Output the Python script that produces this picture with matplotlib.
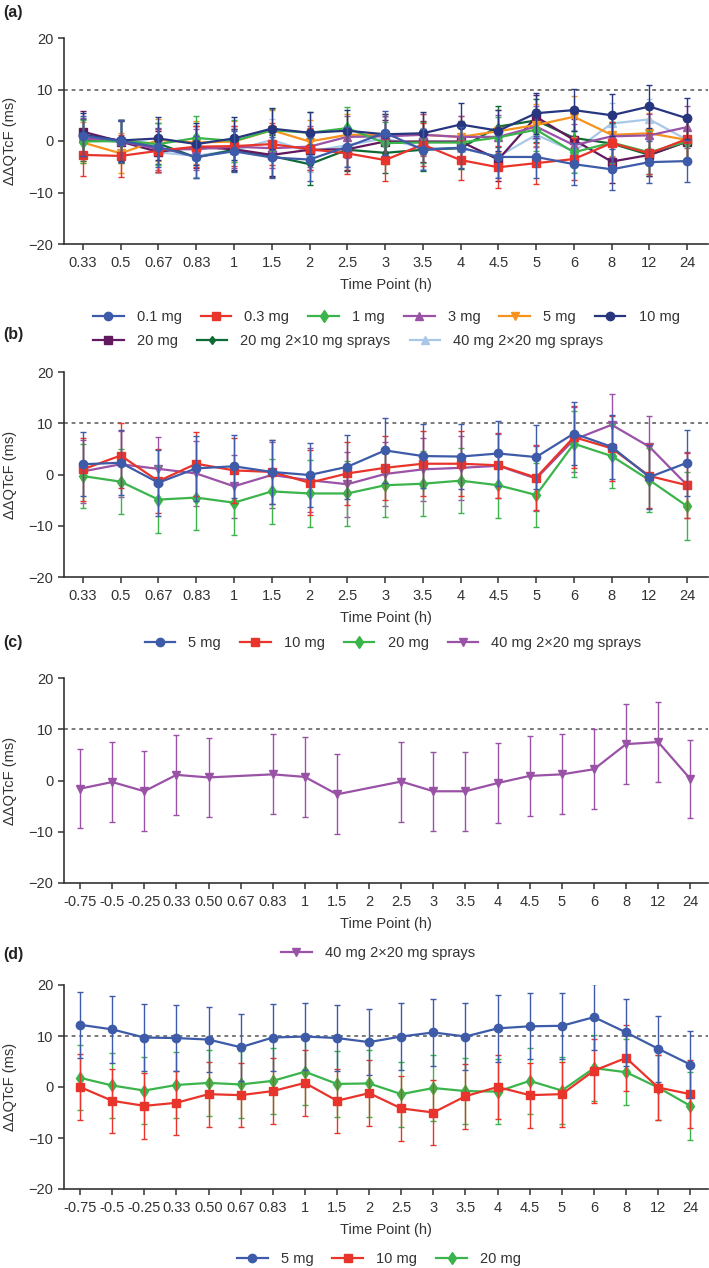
import matplotlib
matplotlib.use("Agg")
import matplotlib.pyplot as plt
from matplotlib.lines import Line2D
import numpy as np

plt.rcParams['font.family'] = ['Liberation Sans Narrow', 'Liberation Sans', 'DejaVu Sans']
plt.rcParams['font.size'] = 10.5
plt.rcParams['text.color'] = '#333333'
plt.rcParams['axes.labelcolor'] = '#333333'
plt.rcParams['xtick.color'] = '#333333'
plt.rcParams['ytick.color'] = '#333333'

# time points
t_a = ['0.33', '0.5', '0.67', '0.83', '1', '1.5', '2', '2.5', '3', '3.5', '4', '4.5', '5', '6', '8', '12', '24']
t_c = ['-0.75', '-0.5', '-0.25', '0.33', '0.50', '0.67', '0.83', '1', '1.5', '2', '2.5', '3', '3.5', '4', '4.5',
       '5', '6', '8', '12', '24']

# panel (a): all doses
a_01 = [1.0, 0.0, -1.2, -3.1, -2.0, -3.2, -3.6, -1.1, 1.6, -1.7, -1.3, -3.1, -3.1, -4.5, -5.5, -4.1, -3.9]
a_03 = [-2.7, -2.9, -1.9, -1.1, -1.0, -0.6, -1.6, -2.4, -3.7, -0.7, -3.7, -5.1, -4.3, -3.5, -0.4, -2.4, 0.4]
a_1 = [-0.1, 0.0, -0.6, 0.6, 0.0, 2.1, 1.6, 2.5, -0.4, -0.3, -0.3, 0.7, 2.2, -2.2, -0.3, -2.2, -0.1]
a_3 = [0.5, 0.0, -1.6, -1.6, -1.1, -1.4, -1.1, 0.8, 0.9, 1.2, 0.8, 0.8, 2.8, -0.8, 0.9, 1.1, 2.7]
a_5 = [-0.3, -2.4, 0.2, -0.3, -0.1, 2.1, -0.1, 1.2, 1.2, 1.2, 0.8, 1.9, 3.1, 4.7, 1.2, 1.5, 0.2]
a_10 = [1.2, 0.1, 0.5, -0.6, 0.5, 2.4, 1.6, 2.0, 1.3, 1.5, 3.2, 2.0, 5.4, 6.0, 5.0, 6.7, 4.4]
a_20 = [1.8, -0.1, -2.1, -1.2, -1.6, -2.7, -1.7, -1.6, -0.1, -0.1, -0.1, -3.6, 4.7, 0.2, -4.0, -2.7, -0.1]
a_20s = [0.2, -0.1, -0.5, -3.2, -1.7, -2.9, -4.5, -1.7, -2.3, -1.7, -1.4, 2.8, 4.0, 0.6, -0.5, -2.7, -0.1]
a_40s = [0.5, -0.1, -2.2, -2.9, -1.8, 0.2, -2.1, -0.8, 0.5, -1.4, -1.4, -3.0, 1.2, -2.0, 3.4, 4.2, 0.2]
e_01 = [3.9, 4.0, 3.8, 4.1, 4.0, 4.0, 4.1, 3.9, 4.3, 4.0, 4.0, 4.1, 4.0, 4.1, 4.0, 4.1, 4.0]
e_03 = [4.1, 4.0, 4.2, 4.0, 3.9, 4.0, 4.1, 4.0, 4.0, 4.1, 3.9, 4.1, 4.0, 4.0, 4.1, 4.0, 3.9]
e_1 = [4.2, 4.0, 4.1, 4.2, 4.0, 4.1, 4.0, 4.1, 4.0, 4.0, 4.1, 4.0, 4.1, 4.1, 4.0, 4.2, 4.0]
e_3 = [4.0, 4.1, 4.0, 4.0, 4.1, 3.9, 4.0, 4.1, 4.0, 4.1, 4.0, 4.2, 4.0, 4.1, 4.0, 4.1, 4.1]
e_5 = [4.0, 3.9, 4.0, 4.1, 4.0, 4.0, 4.1, 4.0, 4.1, 4.0, 4.0, 4.1, 4.0, 4.0, 4.1, 4.0, 4.0]
e_10 = [4.2, 4.0, 4.1, 4.0, 4.1, 4.0, 4.1, 4.0, 4.0, 4.1, 4.1, 4.0, 4.0, 4.1, 4.1, 4.1, 4.0]
e_20 = [4.1, 4.0, 4.0, 4.1, 4.0, 4.1, 4.0, 4.0, 4.1, 4.0, 4.0, 4.1, 4.2, 4.0, 4.1, 4.0, 4.0]
e_20s = [4.0, 4.1, 4.0, 4.0, 4.1, 4.0, 4.0, 4.1, 4.0, 4.1, 4.0, 4.0, 4.1, 4.0, 4.0, 4.1, 4.0]
e_40s = [4.0, 4.0, 4.1, 4.0, 4.0, 4.1, 4.0, 4.0, 4.1, 4.0, 4.1, 4.0, 4.0, 4.1, 4.0, 4.0, 4.1]

# panel (b)
b_5 = [2.0, 2.3, -1.6, 1.2, 1.6, 0.5, -0.1, 1.5, 4.7, 3.6, 3.5, 4.1, 3.4, 8.0, 5.4, -0.5, 2.3]
b_10 = [1.0, 3.7, -1.3, 2.1, 0.8, 0.5, -1.6, 0.2, 1.3, 2.1, 2.1, 1.8, -0.6, 7.3, 5.1, -0.3, -2.1]
b_20 = [-0.3, -1.4, -4.9, -4.5, -5.5, -3.3, -3.7, -3.7, -2.1, -1.8, -1.2, -2.1, -4.0, 6.0, 3.6, -1.1, -6.2]
b_40 = [0.6, 2.0, 1.1, 0.2, -2.3, -0.1, -1.1, -1.9, 0.1, 1.0, 1.3, 1.7, -0.8, 6.8, 9.7, 5.4, -2.1]
be_5 = [6.2, 6.3, 6.4, 6.3, 6.2, 6.3, 6.3, 6.2, 6.3, 6.3, 6.3, 6.3, 6.2, 6.2, 6.3, 6.3, 6.4]
be_10 = [6.1, 6.3, 6.3, 6.2, 6.3, 6.3, 6.3, 6.2, 6.2, 6.3, 6.3, 6.3, 6.3, 6.1, 6.3, 6.3, 6.3]
be_20 = [6.3, 6.4, 6.5, 6.4, 6.3, 6.3, 6.5, 6.3, 6.2, 6.3, 6.3, 6.3, 6.3, 6.4, 6.3, 6.3, 6.6]
be_40 = [6.1, 6.4, 6.2, 6.3, 6.2, 6.4, 6.2, 6.3, 6.3, 6.2, 6.3, 6.2, 6.3, 6.3, 6.1, 6.0, 6.4]

# panel (c): 40 mg 2x20 mg sprays (no value at 0.67 and 2 h)
c_40 = [-1.6, -0.3, -2.1, 1.1, 0.6, None, 1.2, 0.7, -2.7, None, -0.2, -2.1, -2.1, -0.5, 0.9, 1.2, 2.2, 7.1, 7.5, 0.3]
ce_40 = [7.7, 7.8, 7.8, 7.8, 7.7, None, 7.8, 7.8, 7.8, None, 7.8, 7.7, 7.7, 7.8, 7.8, 7.8, 7.8, 7.8, 7.8, 7.7]

# panel (d)
d_5 = [12.2, 11.3, 9.7, 9.6, 9.3, 7.8, 9.7, 9.9, 9.6, 8.8, 9.9, 10.7, 9.9, 11.5, 11.9, 12.0, 13.7, 10.7, 7.5, 4.4]
d_10 = [0.0, -2.7, -3.7, -3.1, -1.4, -1.6, -0.8, 0.8, -2.7, -1.2, -4.2, -5.0, -1.8, 0.0, -1.6, -1.4, 3.2, 5.7, -0.1, -1.4]
d_20 = [1.8, 0.3, -0.7, 0.4, 0.8, 0.5, 1.2, 3.0, 0.6, 0.7, -1.4, -0.2, -0.8, -0.9, 1.2, -0.7, 3.7, 2.9, -0.1, -3.7]
de_5 = [6.5, 6.5, 6.5, 6.5, 6.4, 6.6, 6.5, 6.5, 6.4, 6.5, 6.5, 6.6, 6.5, 6.5, 6.5, 6.5, 6.5, 6.5, 6.5, 6.6]
de_10 = [6.4, 6.3, 6.4, 6.3, 6.4, 6.3, 6.4, 6.4, 6.3, 6.4, 6.3, 6.3, 6.4, 6.3, 6.4, 6.4, 6.3, 6.4, 6.4, 6.6]
de_20 = [6.4, 6.4, 6.5, 6.5, 6.4, 6.5, 6.5, 6.5, 6.5, 6.5, 6.4, 6.5, 6.5, 6.4, 6.5, 6.5, 6.5, 6.5, 6.4, 6.6]

c_blue = '#3d5ba8'
c_red = '#e8342b'
c_green = '#3bb44b'
c_purple = '#9a52a6'
c_orange = '#f6921e'
c_navy = '#27367f'
c_dpurple = '#62195f'
c_dgreen = '#0f6a35'
c_lblue = '#a9c8e8'

fig = plt.figure(figsize=(7.09, 12.68), dpi=100)
W, H = 709.0, 1268.0


def make_ax(top, bottom):
    ax = fig.add_axes([64 / W, 1 - bottom / H, (708 - 64) / W, (bottom - top) / H])
    for s in ['top', 'right']:
        ax.spines[s].set_visible(False)
    for s in ['left', 'bottom']:
        ax.spines[s].set_linewidth(1.2)
        ax.spines[s].set_color('#333333')
    ax.set_ylim(-20, 20)
    ax.set_yticks([-20, -10, 0, 10, 20])
    ax.tick_params(length=4, width=1.1, pad=3.5, labelsize=10.5)
    ax.tick_params(axis='x', pad=4.5)
    ax.axhline(10, color='#555555', lw=1.1, ls=(0, (2.5, 2.5)), zorder=0)
    ax.set_xlabel('Time Point (h)', labelpad=6)
    fig.text(10 / W, 1 - ((top + bottom) / 2) / H, 'ΔΔQTcF (ms)', rotation=90, ha='center', va='center')
    return ax


def draw(ax, vals, errs, color, marker, ms, z):
    x = [i for i, v in enumerate(vals) if v is not None]
    y = [v for v in vals if v is not None]
    e = [v for v in errs if v is not None]
    ax.errorbar(x, y, yerr=e, color=color, marker=marker, ms=ms, lw=1.6, elinewidth=1.0,
                capsize=2.5, capthick=1.0, ecolor=color, zorder=z)


def proxy(color, marker, ms):
    return Line2D([], [], color=color, marker=marker, ms=ms, lw=1.6)


# ---- (a)
ax = make_ax(38, 244)
ax.set_xlim(-0.5, len(t_a) - 0.45)
ax.set_xticks(range(len(t_a)))
ax.set_xticklabels(t_a)
a_series = [
    (a_40s, e_40s, c_lblue, '^', 5.5, '40 mg 2×20 mg sprays'),
    (a_20s, e_20s, c_dgreen, 'd', 4.5, '20 mg 2×10 mg sprays'),
    (a_20, e_20, c_dpurple, 's', 5.5, '20 mg'),
    (a_5, e_5, c_orange, 'v', 5.5, '5 mg'),
    (a_3, e_3, c_purple, '^', 5.5, '3 mg'),
    (a_1, e_1, c_green, 'd', 6, '1 mg'),
    (a_03, e_03, c_red, 's', 6, '0.3 mg'),
    (a_10, e_10, c_navy, 'o', 6, '10 mg'),
    (a_01, e_01, c_blue, 'o', 6, '0.1 mg'),
]
for i, (v, e, c, m, s, lab) in enumerate(a_series):
    draw(ax, v, e, c, m, s, 2 + i)
hd = {lab: proxy(c, m, s) for (v, e, c, m, s, lab) in a_series}
row1 = ['0.1 mg', '0.3 mg', '1 mg', '3 mg', '5 mg', '10 mg']
row2 = ['20 mg', '20 mg 2×10 mg sprays', '40 mg 2×20 mg sprays']
leg_kw = dict(frameon=False, borderpad=0, borderaxespad=0, handlelength=2.1, handletextpad=0.9,
              columnspacing=1.3, fontsize=10.5, numpoints=1)
l1 = fig.legend([hd[k] for k in row1], row1, loc='center left', ncol=len(row1),
                bbox_to_anchor=(93 / W, 1 - 317 / H), **leg_kw)
l2 = fig.legend([hd[k] for k in row2], row2, loc='center left', ncol=len(row2),
                bbox_to_anchor=(93 / W, 1 - 341 / H), **leg_kw)

# ---- (b)
ax = make_ax(372, 577)
ax.set_xlim(-0.5, len(t_a) - 0.45)
ax.set_xticks(range(len(t_a)))
ax.set_xticklabels(t_a)
b_series = [
    (b_40, be_40, c_purple, 'v', 5.5, '40 mg 2×20 mg sprays'),
    (b_20, be_20, c_green, 'd', 6, '20 mg'),
    (b_10, be_10, c_red, 's', 6, '10 mg'),
    (b_5, be_5, c_blue, 'o', 6, '5 mg'),
]
for i, (v, e, c, m, s, lab) in enumerate(b_series):
    draw(ax, v, e, c, m, s, 2 + i)
order = [3, 2, 1, 0]
fig.legend([proxy(*b_series[k][2:5]) for k in order], [b_series[k][5] for k in order],
           loc='center', ncol=4, bbox_to_anchor=(393 / W, 1 - 643 / H), **leg_kw)

# ---- (c)
ax = make_ax(678, 883)
ax.set_xlim(-0.5, len(t_c) - 0.45)
ax.set_xticks(range(len(t_c)))
ax.set_xticklabels(t_c)
draw(ax, c_40, ce_40, c_purple, 'v', 5.5, 3)
fig.legend([proxy(c_purple, 'v', 5.5)], ['40 mg 2×20 mg sprays'], loc='center', ncol=1,
           bbox_to_anchor=(378 / W, 1 - 953 / H), **leg_kw)

# ---- (d)
ax = make_ax(985, 1189)
ax.set_xlim(-0.5, len(t_c) - 0.45)
ax.set_xticks(range(len(t_c)))
ax.set_xticklabels(t_c)
d_series = [
    (d_20, de_20, c_green, 'd', 6, '20 mg'),
    (d_10, de_10, c_red, 's', 6, '10 mg'),
    (d_5, de_5, c_blue, 'o', 6, '5 mg'),
]
for i, (v, e, c, m, s, lab) in enumerate(d_series):
    draw(ax, v, e, c, m, s, 2 + i)
order = [2, 1, 0]
fig.legend([proxy(*d_series[k][2:5]) for k in order], [d_series[k][5] for k in order],
           loc='center', ncol=3, bbox_to_anchor=(379 / W, 1 - 1259 / H), **leg_kw)

# panel letters
for lab, y in [('(a)', 13), ('(b)', 335), ('(c)', 643), ('(d)', 955)]:
    fig.text(3 / W, 1 - y / H, lab, fontsize=11.5, fontweight='bold', ha='left', va='center', color='#222222')

fig.savefig('out.png', dpi=100)
